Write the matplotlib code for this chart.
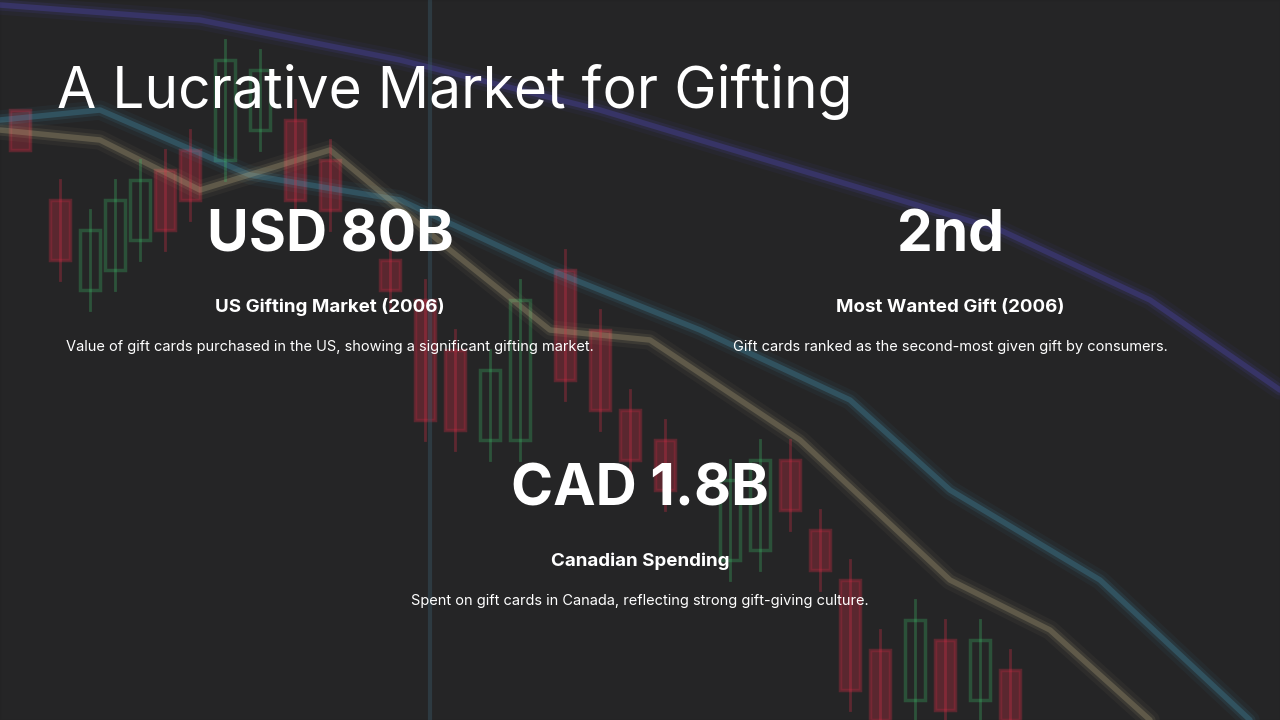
import matplotlib
matplotlib.use("Agg")
import matplotlib.pyplot as plt
import numpy as np

title = "A Lucrative Market for Gifting"
stat_values = ["USD 80B", "2nd", "CAD 1.8B"]
stat_labels = ["US Gifting Market (2006)", "Most Wanted Gift (2006)", "Canadian Spending"]
stat_descs = [
    "Value of gift cards purchased in the US, showing a significant gifting market.",
    "Gift cards ranked as the second-most given gift by consumers.",
    "Spent on gift cards in Canada, reflecting strong gift-giving culture.",
]
stat_x = [330, 950, 640]
stat_y = [237, 237, 491]

# decorative blurred background (approximate)
bg_line_blue_x = [0, 200, 400, 600, 800, 1000, 1150, 1280]
bg_line_blue_y = [5, 20, 60, 110, 170, 230, 300, 390]
bg_line_cyan_x = [0, 100, 250, 400, 550, 700, 850, 950, 1100, 1250]
bg_line_cyan_y = [120, 110, 175, 200, 270, 330, 400, 490, 580, 720]
bg_line_tan_x = [0, 100, 200, 330, 450, 550, 650, 800, 950, 1050, 1150]
bg_line_tan_y = [130, 140, 190, 150, 250, 330, 340, 440, 580, 630, 720]
candle_x = [20, 60, 90, 115, 140, 165, 190, 225, 260, 295, 330, 390, 425, 455, 490, 520, 565, 600, 630, 665, 730, 760, 790, 820, 850, 880, 915, 945, 980, 1010]
candle_lo = [150, 200, 230, 200, 180, 170, 150, 60, 70, 120, 160, 260, 300, 350, 370, 300, 270, 330, 410, 440, 480, 460, 460, 530, 580, 650, 620, 640, 640, 670]
candle_hi = [110, 260, 290, 270, 240, 230, 200, 160, 130, 200, 210, 290, 420, 430, 440, 440, 380, 410, 460, 490, 560, 550, 510, 570, 690, 720, 700, 710, 700, 720]
candle_up = [0, 0, 1, 1, 1, 0, 0, 1, 1, 0, 0, 0, 0, 0, 1, 1, 0, 0, 0, 0, 1, 1, 0, 0, 0, 0, 1, 0, 1, 0]

fig = plt.figure(figsize=(12.8, 7.2), dpi=100)
ax = fig.add_axes([0, 0, 1, 1])
ax.set_xlim(0, 1280)
ax.set_ylim(720, 0)
ax.axis("off")
fig.patch.set_facecolor("#2a2a2b")
ax.set_facecolor("#2a2a2b")

def glow(x, y, color):
    for lw, a in [(14, 0.05), (8, 0.10), (4, 0.25)]:
        ax.plot(x, y, color=color, lw=lw, alpha=a, solid_capstyle="round")

glow(bg_line_blue_x, bg_line_blue_y, "#5a4fd8")
glow(bg_line_cyan_x, bg_line_cyan_y, "#4aa3c8")
glow(bg_line_tan_x, bg_line_tan_y, "#c8b98a")
for x, lo, hi, up in zip(candle_x, candle_lo, candle_hi, candle_up):
    c = "#3fbf6a" if up else "#e0304a"
    ax.plot([x, x], [lo - 20, hi + 20], color=c, lw=2, alpha=0.3)
    ax.add_patch(plt.Rectangle((x - 10, lo), 20, hi - lo, facecolor=c if not up else "none",
                               edgecolor=c, lw=2.5, alpha=0.45))
ax.axvline(430, color="#3a5a6a", lw=3, alpha=0.4)
ax.add_patch(plt.Rectangle((0, 0), 1280, 720, color="#1e1e1f", alpha=0.35))

ax.text(57, 92, title, color="white", fontsize=41, fontfamily="Inter", va="center", ha="left")
for v, l, d, x, y in zip(stat_values, stat_labels, stat_descs, stat_x, stat_y):
    ax.text(x, y, v, color="white", fontsize=41, fontweight="bold", fontfamily="Inter", ha="center", va="center")
    ax.text(x, y + 70, l, color="white", fontsize=13.5, fontweight="bold", fontfamily="Inter", ha="center", va="center")
    ax.text(x, y + 110, d, color="white", fontsize=10.5, fontfamily="Inter", ha="center", va="center")

fig.savefig("out.png", dpi=100, facecolor=fig.get_facecolor())
